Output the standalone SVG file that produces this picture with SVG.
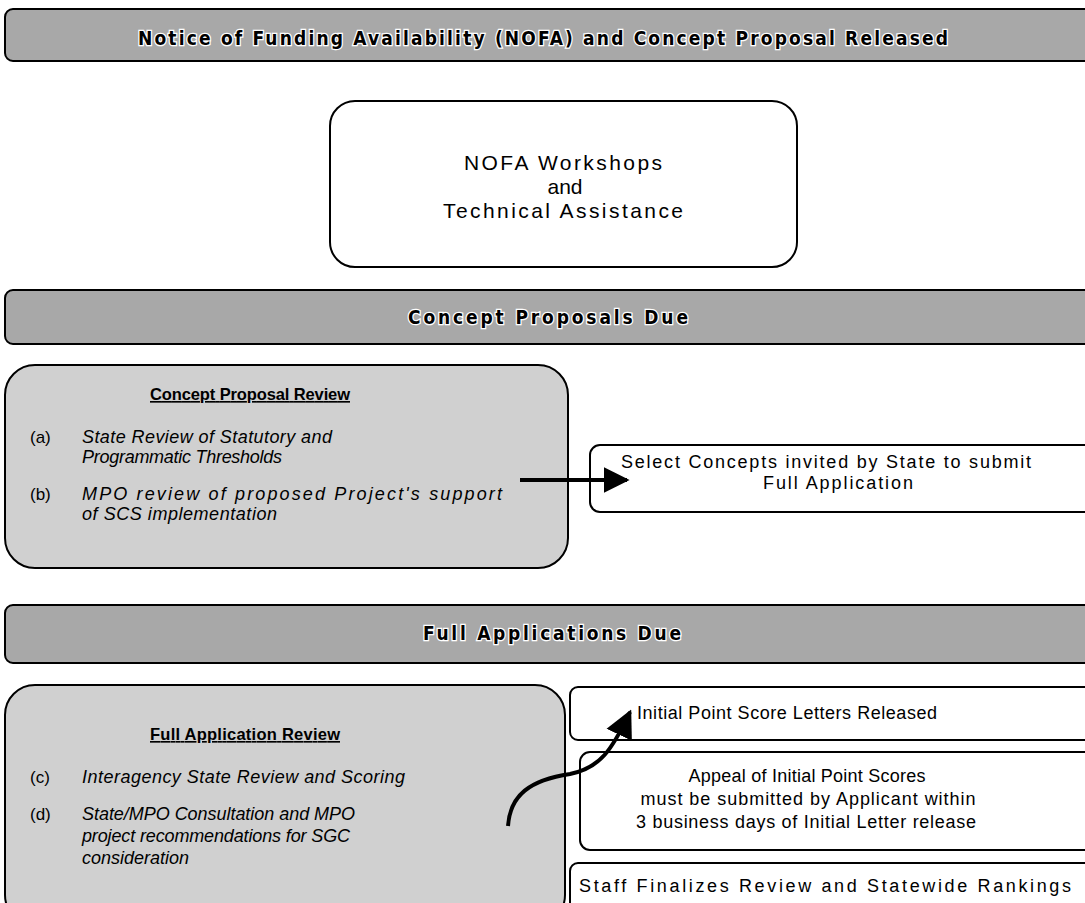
<svg xmlns="http://www.w3.org/2000/svg" width="1085" height="903" viewBox="0 0 1085 903">
<defs>
<style>
.banner{fill:#a8a8a8;stroke:#000;stroke-width:2}
.review{fill:#d0d0d0;stroke:#000;stroke-width:2}
.box{fill:#fff;stroke:#000;stroke-width:2}
.bt{font-family:"DejaVu Sans Condensed","DejaVu Sans",sans-serif;font-weight:bold;font-size:19px;fill:#000;stroke:#fff;stroke-width:2.5px;paint-order:stroke;text-anchor:middle}
.t{font-family:"Liberation Sans",Arial,sans-serif;font-size:18px;fill:#000;text-anchor:middle}
.tb{font-family:"Liberation Sans",Arial,sans-serif;font-size:21px;fill:#000;text-anchor:middle}
.h{font-family:"Liberation Sans",Arial,sans-serif;font-size:16.5px;font-weight:bold;fill:#000;text-decoration:underline;text-anchor:middle}
.it{font-family:"Liberation Sans",Arial,sans-serif;font-size:18px;font-style:italic;fill:#000}
.lb{font-family:"Liberation Sans",Arial,sans-serif;font-size:17px;fill:#000}
.conn{fill:none;stroke:#000;stroke-width:4}
</style>
<marker id="ah" viewBox="0 0 10 10" refX="9" refY="5" markerWidth="6.5" markerHeight="6.5" markerUnits="strokeWidth" orient="auto">
<path d="M0,0 L10,5 L0,10 z" fill="#000"/>
</marker>
<marker id="ah2" viewBox="0 0 10 10" refX="9" refY="5" markerWidth="7" markerHeight="8" markerUnits="strokeWidth" orient="auto">
<path d="M0,0 L10,5 L0,10 z" fill="#000"/>
</marker>
</defs>
<rect width="1085" height="903" fill="#fff"/>

<g id="banner-nofa">
<rect class="banner" x="5" y="9" width="1100" height="52" rx="8"/>
<text class="bt" x="543" y="45" textLength="810" lengthAdjust="spacing">Notice of Funding Availability (NOFA) and Concept Proposal Released</text>
</g>

<g id="nofa-workshops">
<rect class="box" x="330" y="101" width="467" height="166" rx="25"/>
<text class="tb" x="563" y="170" textLength="198" lengthAdjust="spacing">NOFA Workshops</text>
<text class="tb" x="565" y="194">and</text>
<text class="tb" x="563" y="218" textLength="240" lengthAdjust="spacing">Technical Assistance</text>
</g>

<g id="banner-concept">
<rect class="banner" x="5" y="290" width="1100" height="54" rx="8"/>
<text class="bt" x="548" y="324" textLength="280" lengthAdjust="spacing">Concept Proposals Due</text>
</g>

<g id="concept-review">
<rect class="review" x="5" y="365" width="563" height="203" rx="30"/>
<text class="h" x="250" y="400" textLength="200" lengthAdjust="spacing">Concept Proposal Review</text>
<text class="lb" x="30" y="443">(a)</text>
<text class="it" x="82" y="443" textLength="250" lengthAdjust="spacing">State Review of Statutory and</text>
<text class="it" x="82" y="463" textLength="200" lengthAdjust="spacing">Programmatic Thresholds</text>
<text class="lb" x="30" y="500">(b)</text>
<text class="it" x="82" y="500" textLength="420" lengthAdjust="spacing">MPO review of proposed Project's support</text>
<text class="it" x="82" y="520" textLength="195" lengthAdjust="spacing">of SCS implementation</text>
</g>

<g id="select-concepts">
<rect class="box" x="590" y="445" width="510" height="67" rx="10"/>
<text class="t" x="826" y="468" textLength="410" lengthAdjust="spacing">Select Concepts invited by State to submit</text>
<text class="t" x="838" y="489" textLength="150" lengthAdjust="spacing">Full Application</text>
</g>

<g id="banner-full">
<rect class="banner" x="5" y="605" width="1100" height="58" rx="8"/>
<text class="bt" x="552" y="640" textLength="258" lengthAdjust="spacing">Full Applications Due</text>
</g>

<g id="full-review">
<rect class="review" x="5" y="685" width="560" height="240" rx="30"/>
<text class="h" x="245" y="740" textLength="190" lengthAdjust="spacing">Full Application Review</text>
<text class="lb" x="30" y="783">(c)</text>
<text class="it" x="82" y="783" textLength="323" lengthAdjust="spacing">Interagency State Review and Scoring</text>
<text class="lb" x="30" y="820">(d)</text>
<text class="it" x="82" y="820" textLength="273" lengthAdjust="spacing">State/MPO Consultation and MPO</text>
<text class="it" x="82" y="842" textLength="268" lengthAdjust="spacing">project recommendations for SGC</text>
<text class="it" x="82" y="864">consideration</text>
</g>

<g id="initial-scores">
<rect class="box" x="570" y="687" width="530" height="53" rx="8"/>
<text class="t" x="787" y="719" textLength="300" lengthAdjust="spacing">Initial Point Score Letters Released</text>
</g>

<g id="appeal">
<rect class="box" x="580" y="752" width="520" height="98" rx="10"/>
<text class="t" x="807" y="782" textLength="237" lengthAdjust="spacing">Appeal of Initial Point Scores</text>
<text class="t" x="808" y="805" textLength="335" lengthAdjust="spacing">must be submitted by Applicant within</text>
<text class="t" x="806" y="828" textLength="340" lengthAdjust="spacing">3 business days of Initial Letter release</text>
</g>

<g id="staff-finalizes">
<rect class="box" x="570" y="863" width="530" height="60" rx="8"/>
<text class="t" x="825" y="892" textLength="492" lengthAdjust="spacing">Staff Finalizes Review and Statewide Rankings</text>
</g>

<g id="connectors">
<path class="conn" d="M520,480 L627,480" marker-end="url(#ah)"/>
<path class="conn" d="M508,826 C510,795 530,780 570,774 C600,768 612,750 630,712" marker-end="url(#ah2)"/>
</g>
</svg>
